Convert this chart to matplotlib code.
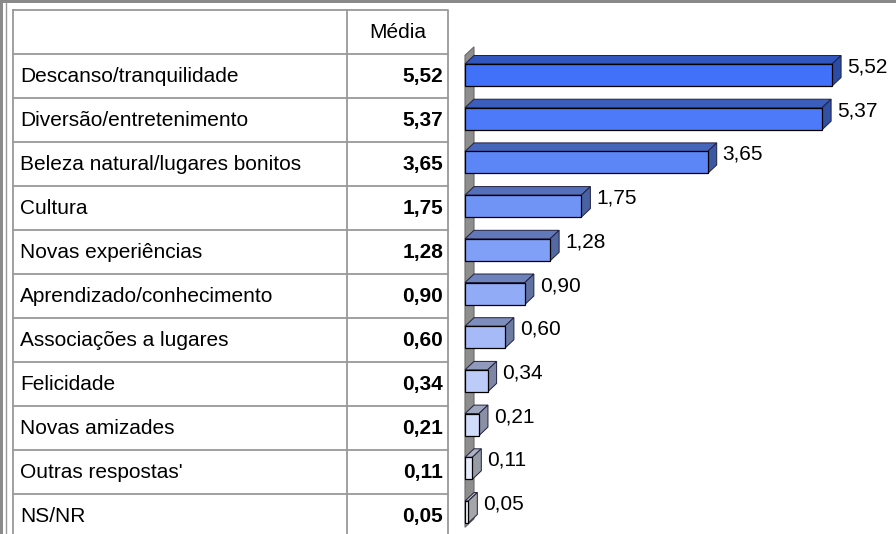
import numpy as np
import matplotlib
matplotlib.use("Agg")
import matplotlib.pyplot as plt
from matplotlib.patches import Polygon, Rectangle

plt.rcParams["font.family"] = ["Liberation Sans", "DejaVu Sans"]

categorias = [
    "Descanso/tranquilidade",
    "Diversão/entretenimento",
    "Beleza natural/lugares bonitos",
    "Cultura",
    "Novas experiências",
    "Aprendizado/conhecimento",
    "Associações a lugares",
    "Felicidade",
    "Novas amizades",
    "Outras respostas'",
    "NS/NR",
]
medias = [5.52, 5.37, 3.65, 1.75, 1.28, 0.90, 0.60, 0.34, 0.21, 0.11, 0.05]
cabecalho = "Média"

# front-face colours, dark blue to near white
cores = ["#4171f9", "#4d7af8", "#5c86f6", "#7094f5", "#809ff6", "#91abf6",
         "#a5baf7", "#bdcbf8", "#d1dcfa", "#e5ebfc", "#fafbff"]

W, H = 896, 534
FS = 15


def fmt(v):
    return f"{v:.2f}".replace(".", ",")


def shade(c, f):
    r, g, b = matplotlib.colors.to_rgb(c)
    return (r * f, g * f, b * f)


fig = plt.figure(figsize=(W / 100, H / 100), dpi=100)

# ---- table + frame, pixel coordinates ----
tab = fig.add_axes([0, 0, 1, 1])
tab.set_xlim(0, W)
tab.set_ylim(H, 0)
tab.axis("off")

grid = "#999999"
tab.add_patch(Rectangle((0, 0), W, 3, color="#8a8a8a", lw=0))
tab.add_patch(Rectangle((0, 0), 3, H, color="#8a8a8a", lw=0))
tab.plot([6, 6], [3, H], color="#9a9a9a", lw=1)

x_left, x_div, x_right = 12.5, 347, 448
y_top, row_h = 9.5, 44
n = len(categorias)
y_bottom = y_top + row_h * (n + 1)
tab.plot([x_left, x_right, x_right, x_left, x_left],
         [y_top, y_top, y_bottom, y_bottom, y_top], color=grid, lw=1.3)
tab.plot([x_div, x_div], [y_top, y_bottom], color=grid, lw=1.3)
for k in range(1, n + 1):
    y = y_top + row_h * k
    tab.plot([x_left, x_right], [y, y], color=grid, lw=1.3)

tab.text((x_div + x_right) / 2, y_top + row_h / 2 + 1, cabecalho,
         ha="center", va="center", fontsize=FS)
for i, (cat, v) in enumerate(zip(categorias, medias)):
    yc = y_top + row_h * (i + 1.5) + 1
    tab.text(20, yc, cat, ha="left", va="center", fontsize=FS)
    tab.text(443, yc, fmt(v), ha="right", va="center", fontsize=FS,
             fontweight="bold")

# ---- 3D-look bars ----
ppu = 66.5          # pixels per unit
x0 = 465            # pixel of value 0
y0, step = 75, 43.7  # pixel centre of first bar, spacing
xmin = -0.2
ax = fig.add_axes([(x0 + xmin * ppu) / W, 0, 1 - (x0 + xmin * ppu) / W, (H - 30) / H])
ax.set_xlim(xmin, (W - x0) / ppu)
ax.set_ylim((H - y0) / step, (30 - y0) / step)
ax.axis("off")

dx, dy = 9 / ppu, 8.5 / step
bh = 22 / step
ypos = np.arange(n)

# side wall
wall_top, wall_bot = -0.45, 10.35
ax.add_patch(Polygon([(0, wall_top), (dx, wall_top - dy), (dx, wall_bot - dy),
                      (0, wall_bot)], closed=True, facecolor="#8e8e8e",
                     edgecolor="#6a6a6a", lw=0.8, zorder=1))

ax.barh(ypos, medias, height=bh, color=cores, edgecolor="black", lw=0.9,
        zorder=3)
for y, v, c in zip(ypos, medias, cores):
    top = y - bh / 2
    bot = y + bh / 2
    ax.add_patch(Polygon([(0, top), (v, top), (v + dx, top - dy), (dx, top - dy)],
                         closed=True, facecolor=shade(c, 0.76),
                         edgecolor="#202040", lw=0.7, zorder=2))
    ax.add_patch(Polygon([(v, top), (v + dx, top - dy), (v + dx, bot - dy), (v, bot)],
                         closed=True, facecolor=shade(c, 0.66),
                         edgecolor="#202040", lw=0.7, zorder=2))
    ax.text(v + dx + 6 / ppu, y - 8 / step, fmt(v), ha="left", va="center",
            fontsize=FS)

fig.savefig("out.png", dpi=100)
